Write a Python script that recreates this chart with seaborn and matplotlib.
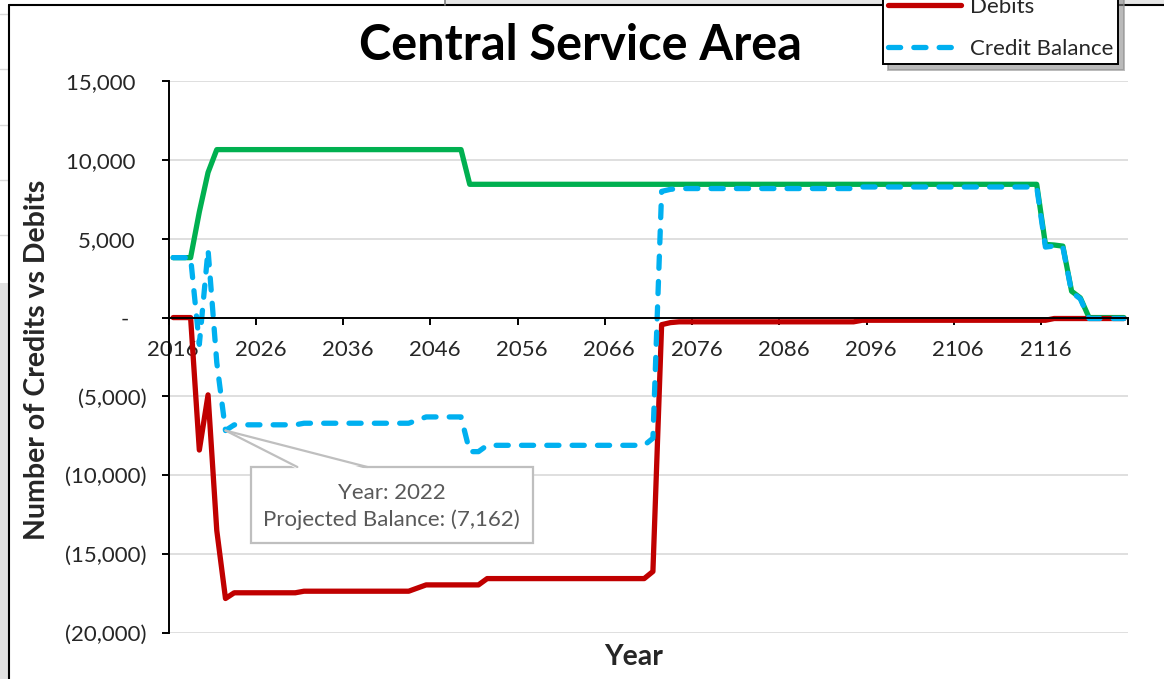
#!/usr/bin/env python3

import matplotlib
matplotlib.use("Agg")
import matplotlib.pyplot as plt
from matplotlib.patches import Rectangle, Polygon
from matplotlib.lines import Line2D
from matplotlib.ticker import FuncFormatter, FixedLocator
import pandas as pd
import seaborn as sns

# -------------------------------
# data, one value per year
# -------------------------------
years = list(range(2016, 2126))

credits = [
    3800, 3800, 3800, 6700, 9200, 10650, 10650, 10650, 10650, 10650,
    10650, 10650, 10650, 10650, 10650, 10650, 10650, 10650, 10650, 10650,
    10650, 10650, 10650, 10650, 10650, 10650, 10650, 10650, 10650, 10650,
    10650, 10650, 10650, 10650, 8450, 8450, 8450, 8450, 8450, 8450,
    8450, 8450, 8450, 8450, 8450, 8450, 8450, 8450, 8450, 8450,
    8450, 8450, 8450, 8450, 8450, 8450, 8450, 8450, 8450, 8450,
    8450, 8450, 8450, 8450, 8450, 8450, 8450, 8450, 8450, 8450,
    8450, 8450, 8450, 8450, 8450, 8450, 8450, 8450, 8450, 8450,
    8450, 8450, 8450, 8450, 8450, 8450, 8450, 8450, 8450, 8450,
    8450, 8450, 8450, 8450, 8450, 8450, 8450, 8450, 8450, 8450,
    4640, 4600, 4530, 1670, 1250, 0, 0, 0, 0, 0,
]

debits = [
    0, 0, 0, -8400, -4900, -13500, -17812, -17450, -17450, -17450,
    -17450, -17450, -17450, -17450, -17450, -17350, -17350, -17350, -17350, -17350,
    -17350, -17350, -17350, -17350, -17350, -17350, -17350, -17350, -17150, -16950,
    -16950, -16950, -16950, -16950, -16950, -16950, -16550, -16550, -16550, -16550,
    -16550, -16550, -16550, -16550, -16550, -16550, -16550, -16550, -16550, -16550,
    -16550, -16550, -16550, -16550, -16550, -16100, -450, -320, -270, -270,
    -270, -270, -270, -270, -270, -270, -270, -270, -270, -270,
    -270, -270, -270, -270, -270, -270, -270, -270, -270, -170,
    -170, -170, -170, -170, -170, -170, -170, -170, -170, -170,
    -170, -170, -170, -170, -170, -170, -170, -170, -170, -170,
    -170, -60, -60, -60, -60, -60, -60, -60, -60, -60,
]

balance = [
    3800, 3800, 3800, -1700, 4300, -2850, -7162, -6800, -6800, -6800,
    -6800, -6800, -6800, -6800, -6800, -6700, -6700, -6700, -6700, -6700,
    -6700, -6700, -6700, -6700, -6700, -6700, -6700, -6700, -6500, -6300,
    -6300, -6300, -6300, -6300, -8500, -8500, -8100, -8100, -8100, -8100,
    -8100, -8100, -8100, -8100, -8100, -8100, -8100, -8100, -8100, -8100,
    -8100, -8100, -8100, -8100, -8100, -7650, 8000, 8130, 8180, 8180,
    8180, 8180, 8180, 8180, 8180, 8180, 8180, 8180, 8180, 8180,
    8180, 8180, 8180, 8180, 8180, 8180, 8180, 8180, 8180, 8280,
    8280, 8280, 8280, 8280, 8280, 8280, 8280, 8280, 8280, 8280,
    8280, 8280, 8280, 8280, 8280, 8280, 8280, 8280, 8280, 8280,
    4470, 4540, 4470, 1610, 1190, -60, -60, -60, -60, -60,
]

series_names = ["Credits", "Debits", "Credit Balance"]
series_colors = ["#00B050", "#C00000", "#00B0F0"]
label_years = list(range(2016, 2126, 10))
y_ticks = [-20000, -15000, -10000, -5000, 0, 5000, 10000, 15000]
callout_year = 2022

W, H = 1164, 679


def fx(x):
    return x / W


def fy(y):
    return 1 - y / H


def acct(v, pos=None):
    if v == 0:
        return "-   "
    if v < 0:
        return f"({abs(v):,.0f})"
    return f"{v:,.0f}  "


def main():
    sns.set_style("white")
    plt.rcParams["font.family"] = ["Lato", "DejaVu Sans"]

    df = pd.DataFrame({"Year": years, "Credits": credits,
                       "Debits": debits, "Credit Balance": balance})

    fig = plt.figure(figsize=(W / 100, H / 100), dpi=100)
    ax = fig.add_axes([fx(168.8), fy(633), fx(1128.3) - fx(168.8), fy(81) - fy(633)])

    for name, color in zip(series_names, series_colors):
        sns.lineplot(data=df, x="Year", y=name, color=color, lw=3.8,
                     label=name, ax=ax, legend=False)
        line = ax.lines[-1]
        line.set_solid_joinstyle("round")
        line.set_dash_joinstyle("round")
    blue = ax.lines[-1]
    blue.set_dashes([2.3, 2.5])
    blue.set_dash_capstyle("round")

    ax.set_xlim(2015.5, 2125.5)
    ax.set_ylim(-20000, 15000)

    # axes styling, Excel-like
    for s in ["top", "right"]:
        ax.spines[s].set_visible(False)
    ax.spines["bottom"].set_position(("data", 0))
    ax.spines["left"].set_linewidth(1.4)
    ax.spines["bottom"].set_linewidth(1.4)
    ax.spines["left"].set_color("black")
    ax.spines["bottom"].set_color("black")

    ax.yaxis.set_major_locator(FixedLocator(y_ticks))
    ax.yaxis.set_major_formatter(FuncFormatter(acct))
    ax.tick_params(axis="y", which="major", direction="out", length=5, width=1.4,
                   color="black", labelsize=16, labelcolor="#262626", pad=11, left=True)
    ax.yaxis.grid(True, color="#D9D9D9", lw=1.2)
    ax.xaxis.grid(False)

    ax.xaxis.set_major_locator(FixedLocator(label_years))
    ax.xaxis.set_major_formatter(FuncFormatter(lambda v, p: f"{int(v)}"))
    ax.xaxis.set_minor_locator(FixedLocator([y - 0.5 for y in label_years] + [2125.5]))
    ax.tick_params(axis="x", which="major", length=0, labelsize=16,
                   labelcolor="#262626", pad=16, bottom=True)
    ax.tick_params(axis="x", which="minor", direction="out", length=5, width=1.4,
                   color="black", bottom=True)
    ax.set_xlabel("")
    ax.set_ylabel("")

    # callout on the projected balance
    cv = balance[years.index(callout_year)]
    box = Rectangle((0.0854, 0.163), 0.2938, 0.1377, transform=ax.transAxes,
                    fc="white", ec="#BFBFBF", lw=1.6, zorder=6)
    ax.add_patch(box)
    tip = ax.transData.transform((callout_year, cv))
    tip = ax.transAxes.inverted().transform(tip)
    base_l, base_r, top_y = 0.134, 0.207, 0.3007
    ax.add_patch(Polygon([tip, (base_l, top_y - 0.004), (base_r, top_y - 0.004)],
                         closed=True, transform=ax.transAxes, fc="white",
                         ec="none", zorder=7))
    for bx in (base_l, base_r):
        ax.add_line(Line2D([tip[0], bx], [tip[1], top_y], transform=ax.transAxes,
                           color="#BFBFBF", lw=1.6, zorder=8))
    ax.text(0.2323, 0.2290,
            f"Year: {callout_year}\nProjected Balance: ({abs(cv):,})",
            transform=ax.transAxes, ha="center", va="center", fontsize=16,
            color="#595959", linespacing=1.4, zorder=9)

    # titles and axis titles
    fig.text(fx(580), fy(45), "Central Service Area", ha="center", va="center",
             fontsize=35, fontweight="bold", color="black")
    fig.text(fx(37), fy(360), "Number of Credits vs Debits", rotation=90,
             ha="center", va="center", fontsize=20.5, fontweight="bold")
    fig.text(fx(634), fy(657), "Year", ha="center", va="center",
             fontsize=20.5, fontweight="bold")

    # legend (its top row runs off the picture, as in the screenshot)
    handles = ax.lines[:3]
    leg = fig.legend(handles, series_names, loc="lower right",
                     bbox_to_anchor=(fx(1118), fy(64)), borderaxespad=0,
                     frameon=True, fancybox=False, fontsize=16, handlelength=3.3,
                     labelspacing=1.0, borderpad=0.22, handletextpad=0.4,
                     shadow={"ox": 4, "oy": -4, "color": "0.55", "alpha": 0.6},
                     framealpha=1)
    leg.get_frame().set_edgecolor("black")
    leg.get_frame().set_linewidth(1.4)
    for t in leg.get_texts():
        t.set_color("#262626")

    # screenshot surroundings: window edges
    fig.add_artist(Rectangle((fx(445), fy(5)), 1, 1, transform=fig.transFigure,
                             fc="#E6E6E6", ec="none", zorder=0))
    fig.add_artist(Rectangle((0, 0), fx(8), fy(283), transform=fig.transFigure,
                             fc="#E0E0E0", ec="none", zorder=0))
    for gy in (14, 69, 125, 180, 235):
        fig.add_artist(Line2D([0, fx(8)], [fy(gy), fy(gy)], transform=fig.transFigure,
                              color="#D9D9D9", lw=1, zorder=0))
    fig.add_artist(Line2D([fx(9), 1], [fy(5), fy(5)], transform=fig.transFigure,
                          color="black", lw=1.5, zorder=1))
    fig.add_artist(Line2D([fx(9), fx(9)], [0, fy(5)], transform=fig.transFigure,
                          color="black", lw=1.5, zorder=1))
    fig.add_artist(Line2D([fx(445), fx(445)], [fy(5), 1], transform=fig.transFigure,
                          color="#7F7F7F", lw=1.2, zorder=1))

    fig.savefig("out.png", dpi=100)
    plt.close("all")


if __name__ == "__main__":
    main()
